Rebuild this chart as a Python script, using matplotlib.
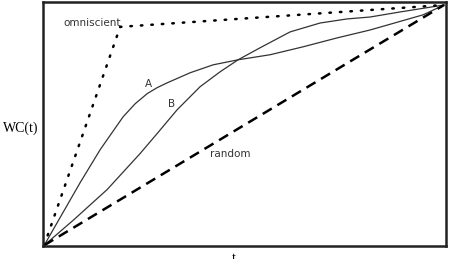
import matplotlib
matplotlib.use("Agg")
import matplotlib.pyplot as plt

# Curve A
a_x = [0, 0.04, 0.09, 0.14, 0.1975, 0.2275, 0.2575, 0.2825, 0.3075, 0.365,
       0.4225, 0.485, 0.565, 0.6475, 0.7325, 0.815, 0.9475, 1.0]
a_y = [0, 0.116, 0.261, 0.398, 0.535, 0.589, 0.631, 0.656, 0.676, 0.718,
       0.751, 0.772, 0.793, 0.826, 0.863, 0.896, 0.959, 1.0]
# Curve B
b_x = [0, 0.0725, 0.1575, 0.24, 0.2825, 0.3325, 0.39, 0.44, 0.485, 0.54,
       0.615, 0.69, 0.7575, 0.815, 0.89, 1.0]
b_y = [0, 0.104, 0.232, 0.382, 0.465, 0.564, 0.660, 0.722, 0.772, 0.822,
       0.888, 0.925, 0.942, 0.950, 0.971, 1.0]
# Omniscient and random
omni_x = [0, 0.19, 1.0]
omni_y = [0, 0.909, 1.0]
rand_x = [0, 1.0]
rand_y = [0, 1.0]

fig = plt.figure(figsize=(4.51, 2.59), dpi=100)
ax = fig.add_axes([43/451, 13/259, 403/451, 244/259])

ax.plot(a_x, a_y, color="#333333", lw=0.9)
ax.plot(b_x, b_y, color="#333333", lw=0.9)
ax.plot(omni_x, omni_y, color="black", lw=1.8, linestyle=(0, (0.6, 3.6)),
        dash_capstyle="round")
ax.plot(rand_x, rand_y, color="black", lw=1.8, linestyle=(0, (4.2, 2.6)))

ax.set_xlim(-0.003, 1.005)
ax.set_ylim(-0.003, 1.0125)
ax.set_xticks([])
ax.set_yticks([])
for s in ax.spines.values():
    s.set_linewidth(1.8)
    s.set_color("#222222")

fs = 7.5
ax.text(0.0475, 0.925, "omniscient", fontsize=fs, color="#333333",
        ha="left", va="center", family="DejaVu Sans")
ax.text(0.26, 0.67, "A", fontsize=fs, color="#333333", ha="center",
        va="center", family="DejaVu Sans")
ax.text(0.318, 0.587, "B", fontsize=fs, color="#333333", ha="center",
        va="center", family="DejaVu Sans")
ax.text(0.415, 0.38, "random", fontsize=fs, color="#333333", ha="left",
        va="center", family="DejaVu Sans")

fig.text(3/451, 1 - 128/259, "WC(t)", fontsize=10, family="Liberation Serif",
         ha="left", va="center")
fig.text(234/451, 1 - 259/259, "t", fontsize=10, family="Liberation Serif",
         ha="center", va="center")

fig.savefig("out.png", dpi=100)
